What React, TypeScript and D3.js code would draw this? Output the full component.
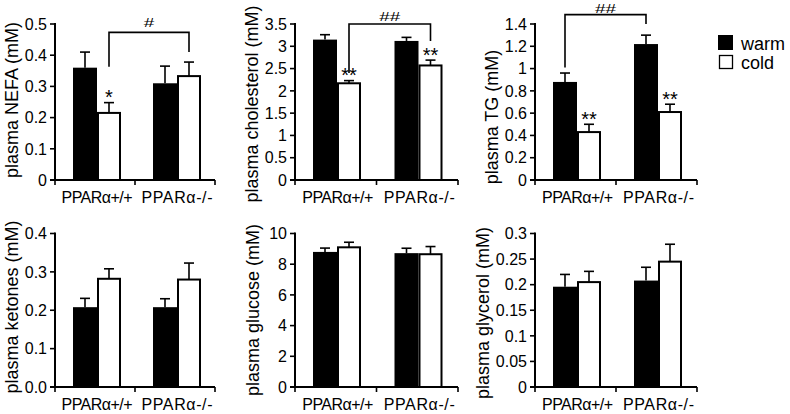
import React from 'react';
import * as d3 from 'd3';

const groups = ['PPARα+/+', 'PPARα-/-'];
const seriesNames = ['warm', 'cold'];

const titles = ['plasma NEFA (mM)', 'plasma cholesterol (mM)', 'plasma TG (mM)', 'plasma ketones (mM)', 'plasma glucose (mM)', 'plasma glycerol (mM)'];

const nefaWarm = [0.36, 0.31];
const nefaWarmErr = [0.05, 0.055];
const nefaCold = [0.215, 0.333];
const nefaColdErr = [0.033, 0.045];

const cholWarm = [3.15, 3.12];
const cholWarmErr = [0.11, 0.08];
const cholCold = [2.17, 2.57];
const cholColdErr = [0.06, 0.12];

const tgWarm = [0.88, 1.22];
const tgWarmErr = [0.08, 0.08];
const tgCold = [0.43, 0.61];
const tgColdErr = [0.07, 0.07];

const ketWarm = [0.208, 0.208];
const ketWarmErr = [0.023, 0.022];
const ketCold = [0.282, 0.28];
const ketColdErr = [0.026, 0.043];

const gluWarm = [8.8, 8.72];
const gluWarmErr = [0.25, 0.32];
const gluCold = [9.1, 8.65];
const gluColdErr = [0.33, 0.5];

const glyWarm = [0.196, 0.208];
const glyWarmErr = [0.024, 0.026];
const glyCold = [0.205, 0.245];
const glyColdErr = [0.021, 0.034];

const nefaTicks = [0, 0.1, 0.2, 0.3, 0.4, 0.5];
const cholTicks = [0, 0.5, 1, 1.5, 2, 2.5, 3, 3.5];
const tgTicks = [0, 0.2, 0.4, 0.6, 0.8, 1, 1.2, 1.4];
const ketTicks = [0, 0.1, 0.2, 0.3, 0.4];
const gluTicks = [0, 2, 4, 6, 8, 10];
const glyTicks = [0, 0.05, 0.1, 0.15, 0.2, 0.25, 0.3];

const nefaStars = ['*', ''];
const cholStars = ['**', '**'];
const tgStars = ['**', '**'];
const noStars = ['', ''];

const nefaBracket = { series: 'cold', top: 0.473, left: 0.363, right: 0.41, label: '#' };
const cholBracket = { series: 'cold', top: 3.5, left: 2.4, right: 3.12, label: '##' };
const tgBracket = { series: 'warm', top: 1.484, left: 1.01, right: 1.4, label: '##' };

const FONT = '"Liberation Sans", Arial, Helvetica, sans-serif';

const cols = [[55, 215], [295, 458], [535, 697]];
const rows = [[24, 180], [233.5, 387]];
const labelX = [[12, 252, 492], [12, 253, 483]];
const labelY = [[100, 104, 117], [307, 310, 313]];
const hashGap = [5, 3, 2];

type PanelSpec = {
  warm: number[]; warmErr: number[]; cold: number[]; coldErr: number[];
  ticks: number[]; fmt: (v: number) => string; stars: string[];
  bracket: any; title: string;
};

const panels: PanelSpec[] = [
  { warm: nefaWarm, warmErr: nefaWarmErr, cold: nefaCold, coldErr: nefaColdErr, ticks: nefaTicks, fmt: d3.format(''), stars: nefaStars, bracket: nefaBracket, title: titles[0] },
  { warm: cholWarm, warmErr: cholWarmErr, cold: cholCold, coldErr: cholColdErr, ticks: cholTicks, fmt: d3.format(''), stars: cholStars, bracket: cholBracket, title: titles[1] },
  { warm: tgWarm, warmErr: tgWarmErr, cold: tgCold, coldErr: tgColdErr, ticks: tgTicks, fmt: d3.format(''), stars: tgStars, bracket: tgBracket, title: titles[2] },
  { warm: ketWarm, warmErr: ketWarmErr, cold: ketCold, coldErr: ketColdErr, ticks: ketTicks, fmt: d3.format('.1f'), stars: noStars, bracket: null, title: titles[3] },
  { warm: gluWarm, warmErr: gluWarmErr, cold: gluCold, coldErr: gluColdErr, ticks: gluTicks, fmt: d3.format(''), stars: noStars, bracket: null, title: titles[4] },
  { warm: glyWarm, warmErr: glyWarmErr, cold: glyCold, coldErr: glyColdErr, ticks: glyTicks, fmt: d3.format(''), stars: noStars, bracket: null, title: titles[5] },
];

const BAR_W = 24;
const GROUP_OFF = 18;

function Panel({ spec, idx }: { spec: PanelSpec; idx: number }) {
  const r = Math.floor(idx / 3);
  const c = idx % 3;
  const [x0, x1] = cols[c];
  const [yTop, yBot] = rows[r];
  const maxV = spec.ticks[spec.ticks.length - 1];
  const y = d3.scaleLinear().domain([0, maxV]).range([yBot, yTop]);
  const xb = d3.scaleBand().domain(groups).range([x0, x1]).padding(0);
  const bw = xb.bandwidth();
  const barX = (g: string, s: string) => (xb(g) as number) + GROUP_OFF + (s === 'warm' ? 0 : BAR_W);
  const barC = (g: string, s: string) => barX(g, s) + BAR_W / 2;

  const bars: any[] = [];
  groups.forEach((g, gi) => {
    seriesNames.forEach((s) => {
      const v = s === 'warm' ? spec.warm[gi] : spec.cold[gi];
      const e = s === 'warm' ? spec.warmErr[gi] : spec.coldErr[gi];
      bars.push({ g, gi, s, v, e });
    });
  });

  const b = spec.bracket;
  return (
    <g>
      {bars.map((d, i) => (
        <g key={i}>
          <line x1={barC(d.g, d.s)} x2={barC(d.g, d.s)} y1={y(d.v)} y2={y(d.v + d.e)} stroke="#000" strokeWidth={1.6} />
          <line x1={barC(d.g, d.s) - 5} x2={barC(d.g, d.s) + 5} y1={y(d.v + d.e)} y2={y(d.v + d.e)} stroke="#000" strokeWidth={1.6} />
          <rect x={barX(d.g, d.s) + (d.s === 'cold' ? 1 : 0)} y={y(d.v)} width={d.s === 'cold' ? BAR_W - 2 : BAR_W} height={yBot - y(d.v)}
            fill={d.s === 'warm' ? '#000' : '#fff'} stroke="#000" strokeWidth={d.s === 'cold' ? 2 : 0} />
          {d.s === 'cold' && spec.stars[d.gi] ? (
            <text x={barC(d.g, d.s)} y={y(d.v + d.e) + 1.5} textAnchor="middle" fontSize={20} fontFamily={FONT}>{spec.stars[d.gi]}</text>
          ) : null}
        </g>
      ))}
      {b ? (
        <g>
          <path d={`M${barC(groups[0], b.series)},${y(b.left)}V${y(b.top)}H${barC(groups[1], b.series)}V${y(b.right)}`} fill="none" stroke="#000" strokeWidth={1.6} />
          <text x={(barC(groups[0], b.series) + barC(groups[1], b.series)) / 2} y={y(b.top) - hashGap[c]} textAnchor="middle" fontSize={13.5} fontFamily={FONT}
            textLength={b.label.length * 10.5} lengthAdjust="spacingAndGlyphs">{b.label}</text>
        </g>
      ) : null}
      <line x1={x0} x2={x0} y1={yTop - 1} y2={yBot} stroke="#000" strokeWidth={2} />
      {spec.ticks.map((t, i) => (
        <g key={i}>
          <line x1={x0 - 5} x2={x0} y1={y(t)} y2={y(t)} stroke="#000" strokeWidth={1.6} />
          <text x={x0 - 8} y={y(t)} dy="0.36em" textAnchor="end" fontSize={16} fontFamily={FONT}>{spec.fmt(t)}</text>
        </g>
      ))}
      <line x1={x0 - 5} x2={x1} y1={yBot} y2={yBot} stroke="#000" strokeWidth={2} />
      {[x0, x0 + bw, x1].map((tx, i) => (
        <line key={i} x1={tx} x2={tx} y1={yBot} y2={yBot + 5} stroke="#000" strokeWidth={1.6} />
      ))}
      {groups.map((g) => (
        <text key={g} x={(xb(g) as number) + bw / 2 + 2} y={yBot + 23} textAnchor="middle" fontSize={16} fontFamily={FONT}
          textLength={g.length === 8 ? 71 : 64} lengthAdjust="spacing">{g}</text>
      ))}
      <text transform={`translate(${labelX[r][c]},${labelY[r][c]}) rotate(-90)`} dy="0.35em" textAnchor="middle" fontSize={18} fontFamily={FONT}>{spec.title}</text>
    </g>
  );
}

export default function App() {
  return (
    <svg width={790} height={414} style={{ position: 'absolute', left: 0, top: 0, background: '#fff' }}>
      <rect width={790} height={414} fill="#fff" />
      {panels.map((p, i) => <Panel key={i} spec={p} idx={i} />)}
      <g fontFamily={FONT} fontSize={18}>
        <rect x={718} y={35} width={15} height={15} fill="#000" />
        <text x={741} y={50}>{seriesNames[0]}</text>
        <rect x={719.5} y={55.5} width={13} height={13} fill="#fff" stroke="#000" strokeWidth={1.3} />
        <text x={741} y={69}>{seriesNames[1]}</text>
      </g>
    </svg>
  );
}
